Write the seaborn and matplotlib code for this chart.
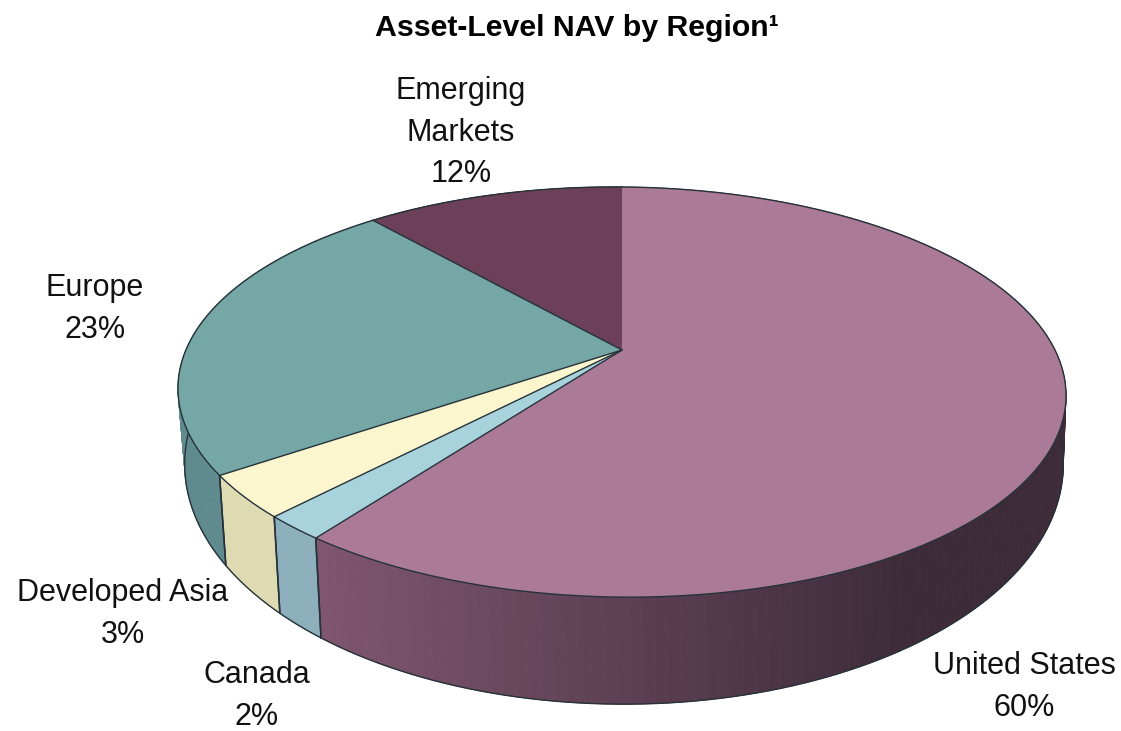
import numpy as np
import matplotlib
matplotlib.use("Agg")
import matplotlib.pyplot as plt
import seaborn as sns
from matplotlib.collections import PolyCollection

regions = ["United States", "Canada", "Developed Asia", "Europe", "Emerging\nMarkets"]
shares = [60.0, 1.9, 3.3, 23.3, 11.5]
pct_labels = ["60%", "2%", "3%", "23%", "12%"]
title = "Asset-Level NAV by Region\u00b9"

top_colors = ["#AB7A96", "#A8D3DC", "#FBF6CE", "#74A7A5", "#6C4059"]
side_left = ["#80576F", "#8EB0BC", "#DEDAB2", "#5F8B8E", "#3C2A36"]
side_right = ["#3D2B38", "#8EB0BC", "#DEDAB2", "#5F8B8E", "#3C2A36"]
label_xy = [(1024, 687), (257, 696), (123, 614), (95, 309), (461, 133)]

sns.set_theme(style="white")
plt.rcParams["font.family"] = ["Liberation Sans", "DejaVu Sans"]
palette = sns.color_palette(top_colors)
pal_l = np.array(sns.color_palette(side_left))
pal_r = np.array(sns.color_palette(side_right))

W, H = 1121, 731
fig, ax = plt.subplots(figsize=(W / 100, H / 100), dpi=100)
fig.subplots_adjust(0, 0, 1, 1)
ax.set_xlim(0, W)
ax.set_ylim(H, 0)
ax.axis("off")

C = 0.205


def project(theta, r=1.0, a=350.0, b=-124.7, d=434.6, cx=622.0, skew=0.008):
    x = r * np.sin(theta)
    y = r * np.cos(theta)
    den = 1 + C * y
    px = cx + d * x / den
    return px, (a + b * y) / den + skew * (px - cx)


def lower(theta):
    return project(theta, a=414.8, b=-145.0, d=430.0, cx=624.0, skew=0.0)


edges = np.radians(np.concatenate([[0], np.cumsum(shares)]) / np.sum(shares) * 360)
LINE = "#26323A"

# side wall
for i in range(len(shares)):
    th = np.linspace(edges[i], edges[i + 1], 160)
    xt, yt = project(th)
    xb, yb = lower(th)
    mid = 0.5 * (th[:-1] + th[1:])
    frac = np.clip((np.sin(mid) + 0.6) / 1.15, 0, 1)
    polys = [[(xt[j], yt[j]), (xt[j + 1], yt[j + 1]), (xb[j + 1], yb[j + 1]), (xb[j], yb[j])]
             for j in range(len(mid))]
    cols = [pal_l[i] * (1 - f) + pal_r[i] * f for f in frac]
    ax.add_collection(PolyCollection(polys, facecolors=cols, edgecolors=cols, linewidths=0.6, zorder=1))
    ax.plot(xb, yb, color=LINE, lw=1.0, zorder=2)
    for e in (edges[i], edges[i + 1]):
        if np.pi < e < 1.5 * np.pi:
            xa, ya = project(np.array([e]))
            xc, yc = lower(np.array([e]))
            ax.plot([xa[0], xc[0]], [ya[0], yc[0]], color=LINE, lw=1.1, zorder=3)

# top faces
cx0, cy0 = project(np.array([0.0]), r=0.0)
for i in range(len(shares)):
    th = np.linspace(edges[i], edges[i + 1], 200)
    xt, yt = project(th)
    ax.fill(np.r_[cx0, xt], np.r_[cy0, yt], facecolor=palette[i], edgecolor="none", zorder=4)
    ax.plot(xt, yt, color=LINE, lw=1.0, zorder=5)
    if edges[i] > 0:
        xa, ya = project(np.array([edges[i]]))
        ax.plot([cx0[0], xa[0]], [cy0[0], ya[0]], color=LINE, lw=1.0, zorder=5)

ax.text(577, 28, title, ha="center", va="center", fontsize=21.8, fontweight="bold", color="#000000")
for name, pct, (lx, ly) in zip(regions, pct_labels, label_xy):
    ax.text(lx, ly, f"{name}\n{pct}", ha="center", va="center", fontsize=22,
            color="#111111", linespacing=1.5, zorder=6)

fig.savefig("out.png", dpi=100)
